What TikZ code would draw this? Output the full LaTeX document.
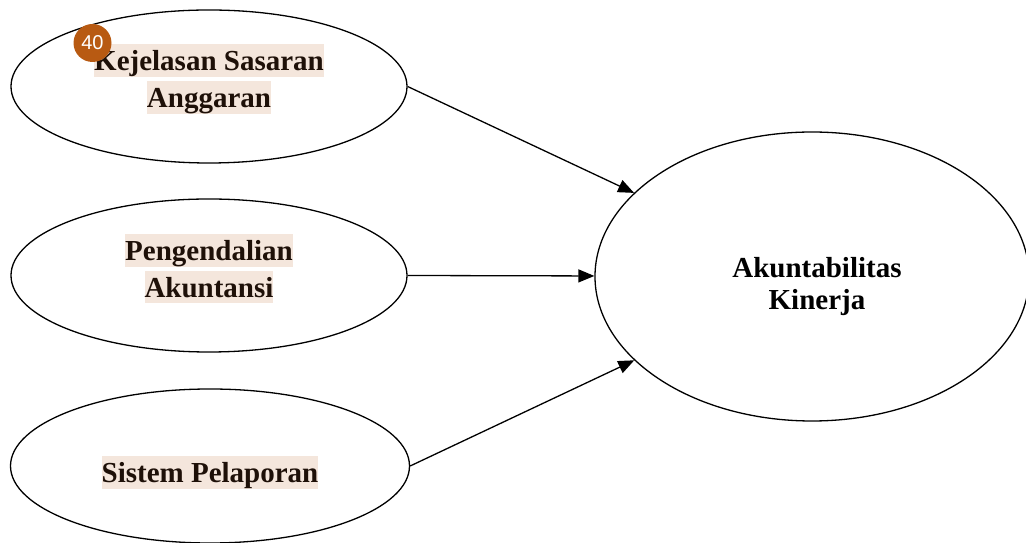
\documentclass[tikz,border=0pt]{standalone}
\usepackage{fontspec}
\setmainfont{Liberation Serif}
\newfontfamily\badgefont{Liberation Sans}
\usetikzlibrary{arrows.meta,shapes.geometric}

\definecolor{hlbg}{HTML}{F4E6DC}
\definecolor{hltext}{HTML}{1E1008}
\definecolor{badgebg}{HTML}{B85A12}

% highlighted line of text
\newcommand{\hlline}[1]{{\setlength{\fboxsep}{0pt}\colorbox{hlbg}{\rule[-0.2em]{0pt}{1.13em}#1}}}

\tikzstyle{var} = [ellipse, draw, line width=1.3pt, minimum width=396pt, minimum height=153pt, inner sep=0pt]
\tikzstyle{lbl} = [align=center, inner sep=0pt, text=hltext, font=\fontsize{29}{37}\selectfont\bfseries]
\tikzstyle{arr} = [-{Triangle[length=16pt,width=13pt]}, line width=1.3pt]
\tikzstyle{badge} = [circle, fill=badgebg, minimum size=38pt, inner sep=0pt, text=white, font=\badgefont\fontsize{20}{20}\selectfont]

\begin{document}
\begin{tikzpicture}[x=1pt, y=1pt]
\useasboundingbox (0,0) rectangle (1026,543);

% variables
\node[var] (ksa) at (209,456.5) {};
\node[var] (pa) at (209,267.5) {};
\node[var, minimum width=399pt, minimum height=154pt] (sp) at (210,77) {};
\node[var, minimum width=434pt, minimum height=289pt] (ak) at (812,266.5) {};

% labels
\node[lbl] (ksa-t) at (209,464) {\hlline{Kejelasan Sasaran}\\\hlline{Anggaran}};
\node[lbl] (pa-t) at (209,274.5) {\hlline{Pengendalian}\\\hlline{Akuntansi}};
\node[lbl] (sp-t) at (210,70.5) {\hlline{Sistem Pelaporan}};
\node[lbl, text=black, font=\fontsize{29}{32}\selectfont\bfseries] (ak-t) at (817,256) {Akuntabilitas\\Kinerja};

\node[badge] (pg) at (92.5,500) {40};

% paths
\draw[arr] (ksa.east) -- (ak);
\draw[arr] (pa.east) -- (ak);
\draw[arr] (sp.east) -- (ak);
\end{tikzpicture}
\end{document}
